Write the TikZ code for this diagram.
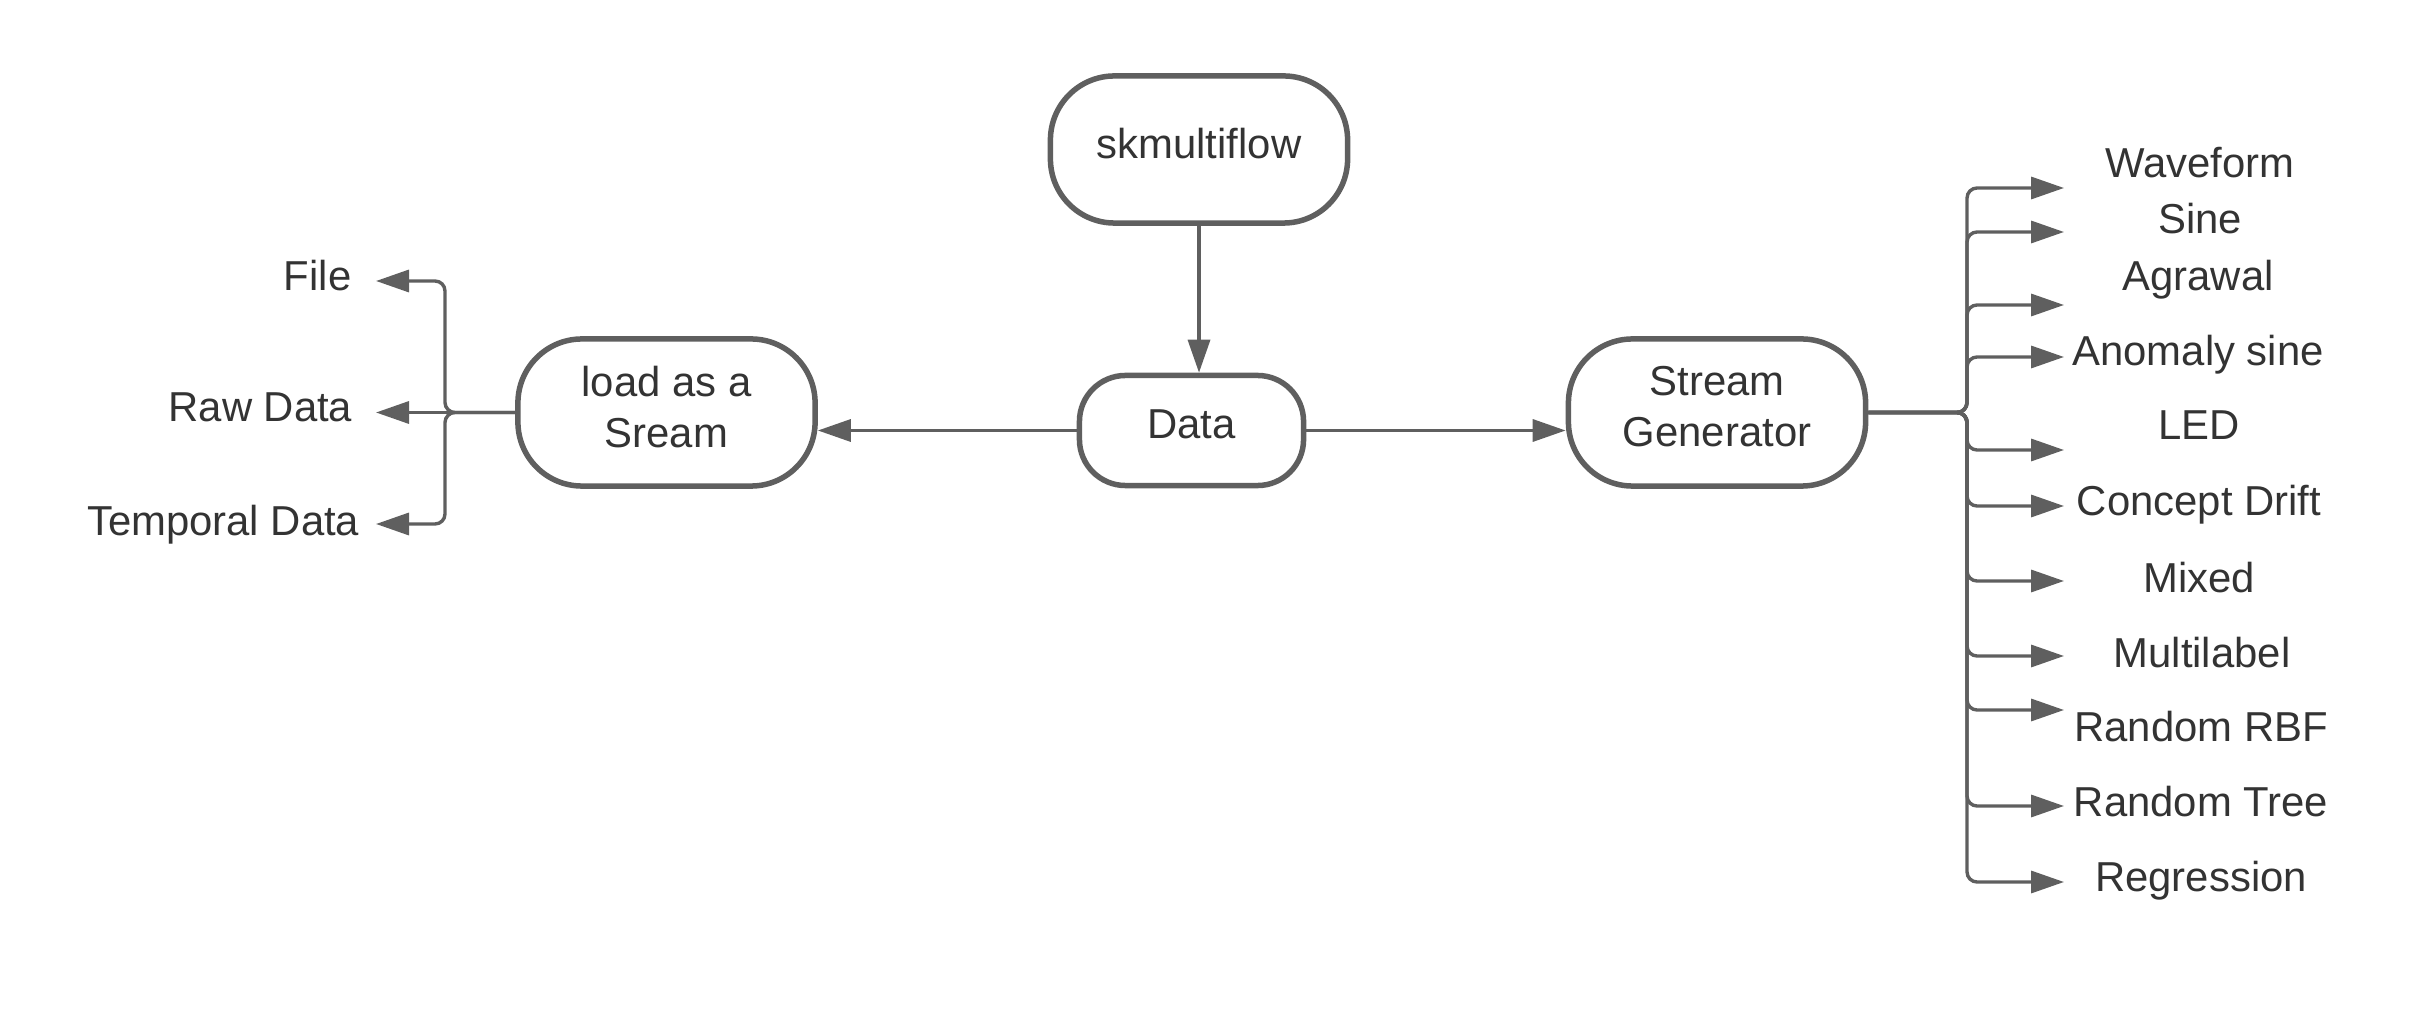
\documentclass[tikz,border=0pt]{standalone}
\usepackage{fontspec}
\setmainfont{Liberation Sans}
\usetikzlibrary{arrows.meta}
\definecolor{linec}{HTML}{5F5F5F}
\definecolor{txtc}{HTML}{333333}
\newcommand{\dstrut}{\rule[-0.12cm]{0pt}{0.12cm}}
\begin{document}
\begin{tikzpicture}[x=0.01cm,y=-0.01cm,
  lbl/.style={font=\fontsize{11.9pt}{14.5pt}\selectfont, text=txtc, inner sep=0pt},
  term/.style={draw=linec, line width=0.055cm, fill=white, text=txtc,
    font=\fontsize{11.9pt}{14.5pt}\selectfont, inner sep=0pt, align=center},
  bigterm/.style={term, minimum width=2.97cm, minimum height=1.47cm, rounded corners=0.64cm},
  conn/.style={draw=linec, line width=0.034cm, rounded corners=0.1cm},
  arr/.style={-{Triangle[length=0.33cm,width=0.22cm]}}]
\useasboundingbox (0,0) rectangle (2413,1013);

% main boxes
\node[bigterm] (sk) at (1199,149.5) {skmultiflow\dstrut};
\node[term, minimum width=2.24cm, minimum height=1.10cm, rounded corners=0.46cm] (data) at (1191.5,430.5) {Data\dstrut};
\node[bigterm] (load) at (666.5,412.5) {load as a\\Sream\dstrut};
\node[bigterm] (gen) at (1717,412.5) {Stream\\Generator\dstrut};

% main connectors
\draw[conn,arr] (sk.south) -- (sk.south |- data.north);
\draw[conn,arr] (data.west) -- (data.west -| load.east);
\draw[conn,arr] (data.east) -- (data.east -| gen.west);

% left labels
\node[lbl, anchor=base east] (file) at (352,291) {File};
\node[lbl, anchor=base east] (raw) at (353,422) {Raw Data};
\node[lbl, anchor=base east] (temp) at (360,535) {Temporal Data};

\coordinate (lbus) at (445,412.5);
\coordinate (tFile) at (376,281);
\coordinate (tRaw) at (376,412.5);
\coordinate (tTemp) at (376,524);
\draw[conn,arr] (load.west) -- (lbus) |- (tFile);
\draw[conn,arr] (load.west) -- (tRaw);
\draw[conn,arr] (load.west) -- (lbus) |- (tTemp);

% right labels
\node[lbl, anchor=base] (wave) at (2200,178) {Waveform};
\node[lbl, anchor=base] (sine) at (2200,234) {Sine};
\node[lbl, anchor=base] (agr) at (2198,291) {Agrawal};
\node[lbl, anchor=base] (anom) at (2198,366) {Anomaly sine};
\node[lbl, anchor=base] (led) at (2199,440) {LED};
\node[lbl, anchor=base] (cd) at (2199,516) {Concept Drift};
\node[lbl, anchor=base] (mix) at (2199,592) {Mixed};
\node[lbl, anchor=base] (ml) at (2202,667) {Multilabel};
\node[lbl, anchor=base] (rbf) at (2201,741) {Random RBF};
\node[lbl, anchor=base] (rt) at (2201,816) {Random Tree};
\node[lbl, anchor=base] (reg) at (2201,891) {Regression};

\coordinate (rbus) at (1967,412.5);
\foreach \n/\yy in {t1/188,t2/232,t3/305,t4/357,t5/450,t6/506,t7/581,t8/656,t9/710,t10/806,t11/882}{
  \coordinate (\n) at (2064,\yy);
}
\foreach \n in {t1,t2,t3,t4,t5,t6,t7,t8,t9,t10,t11}{
  \draw[conn,arr] (gen.east) -- (rbus) |- (\n);
}
\end{tikzpicture}
\end{document}
